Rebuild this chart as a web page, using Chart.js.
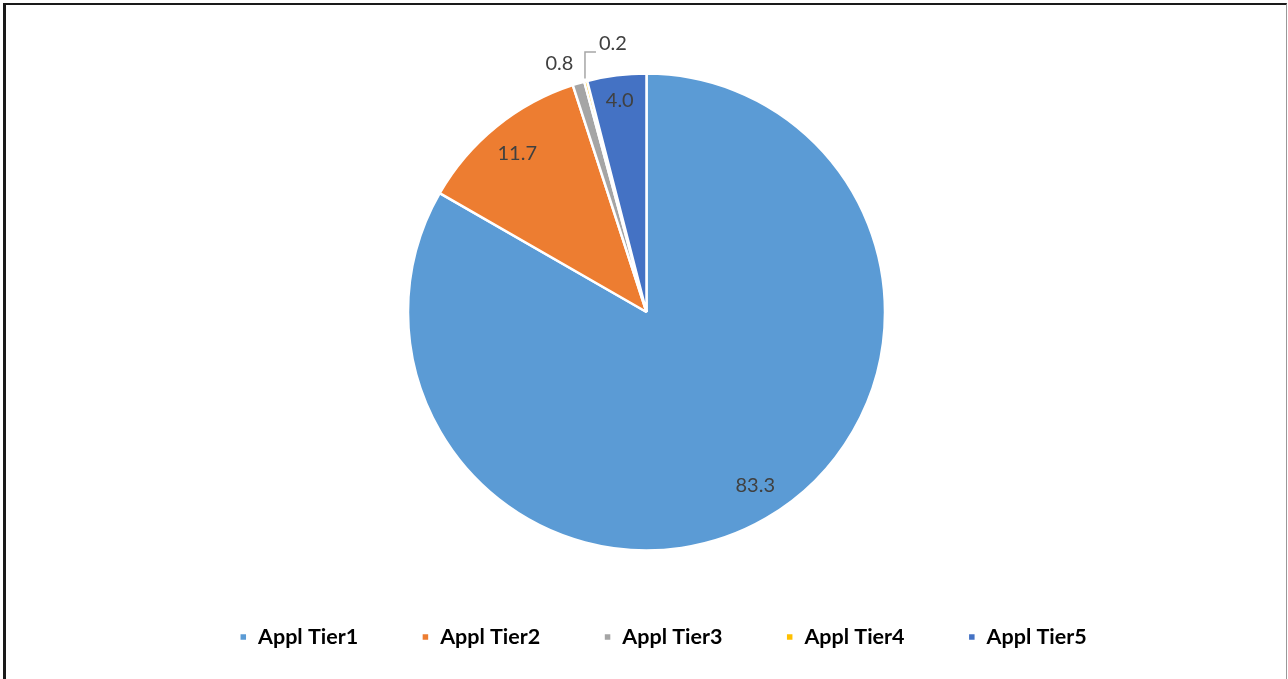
<!DOCTYPE html>
<html>
<head>
<meta charset="utf-8">
<script src="https://cdn.jsdelivr.net/npm/chart.js@4.4.0/dist/chart.umd.min.js"></script>
<style>
  body { margin: 0; background: #fff; }
  #wrap { position: relative; width: 1288px; height: 679px; overflow: hidden; }
  #frame {
    position: absolute; left: 3px; top: 3px; width: 1280px; height: 720px;
    border-left: 3px solid #1a1a1a; border-top: 2px solid #1a1a1a; border-right: 1px solid #999;
    pointer-events: none;
  }
</style>
</head>
<body>
<div id="wrap">
  <canvas id="grafico" width="1288" height="679"></canvas>
  <div id="frame"></div>
</div>
<script>
// dados
const categorias = ['Appl Tier1', 'Appl Tier2', 'Appl Tier3', 'Appl Tier4', 'Appl Tier5'];
const valores = [83.3, 11.7, 0.8, 0.2, 4.0];
const cores = ['#5B9BD5', '#ED7D31', '#A5A5A5', '#FFC000', '#4472C4'];

// rótulos de dados (posição relativa ao raio de cada fatia)
const rotuloPos = [
    { f: 0.86, dx: 6, dy: -4 },
    { f: 0.86, dx: 0, dy: 1 },
    { f: 1.105, dx: -12, dy: 4 },
    { leader: true },
    { f: 0.895, dx: 0, dy: 0 }
];

const rotulosPlugin = {
    id: 'rotulos',
    afterDatasetsDraw(chart) {
        const ctx = chart.ctx;
        const meta = chart.getDatasetMeta(0);
        ctx.save();
        ctx.font = '20px Lato';
        ctx.fillStyle = '#404040';
        ctx.textBaseline = 'middle';
        meta.data.forEach((arc, i) => {
            const { x, y, startAngle, endAngle, outerRadius } = arc.getProps(['x', 'y', 'startAngle', 'endAngle', 'outerRadius'], true);
            const meio = (startAngle + endAngle) / 2;
            const txt = valores[i].toFixed(1);
            const p = rotuloPos[i];
            if (p.leader) {
                const sx = x + Math.cos(meio) * (outerRadius + 3);
                const sy = y + Math.sin(meio) * (outerRadius + 3);
                ctx.strokeStyle = '#A6A6A6';
                ctx.lineWidth = 1.5;
                ctx.beginPath();
                ctx.moveTo(sx, sy);
                ctx.lineTo(sx, sy - 26.5);
                ctx.lineTo(sx + 11, sy - 26.5);
                ctx.stroke();
                ctx.textAlign = 'left';
                ctx.fillText(txt, sx + 14, sy - 35);
            } else {
                const r = outerRadius * p.f;
                ctx.textAlign = 'center';
                ctx.fillText(txt, x + Math.cos(meio) * r + p.dx, y + Math.sin(meio) * r + p.dy);
            }
        });
        ctx.restore();
    }
};

// desloca a legenda um pouco para a direita, como no original
const legendaPlugin = {
    id: 'legendaDesloc',
    afterLayout(chart) {
        if (chart.legend) {
            chart.legend.left += 16.5;
            chart.legend.right += 16.5;
        }
    }
};

const ctx = document.getElementById('grafico').getContext('2d');
const grafico = new Chart(ctx, {
    type: 'pie',
    data: {
        labels: categorias,
        datasets: [{
            data: valores,
            backgroundColor: cores,
            borderColor: '#ffffff',
            borderWidth: 2.5,
            radius: 238.5
        }]
    },
    options: {
        responsive: false,
        animation: false,
        layout: {
            padding: { top: 61, bottom: 21.25, left: 5, right: 0 }
        },
        plugins: {
            tooltip: { enabled: false },
            legend: {
                position: 'bottom',
                labels: {
                    boxWidth: 8,
                    boxHeight: 8,
                    padding: 63.25,
                    color: '#000000',
                    font: { family: 'Lato', size: 21.5, weight: 'bold' }
                }
            }
        }
    },
    plugins: [rotulosPlugin, legendaPlugin]
});
</script>
</body>
</html>
